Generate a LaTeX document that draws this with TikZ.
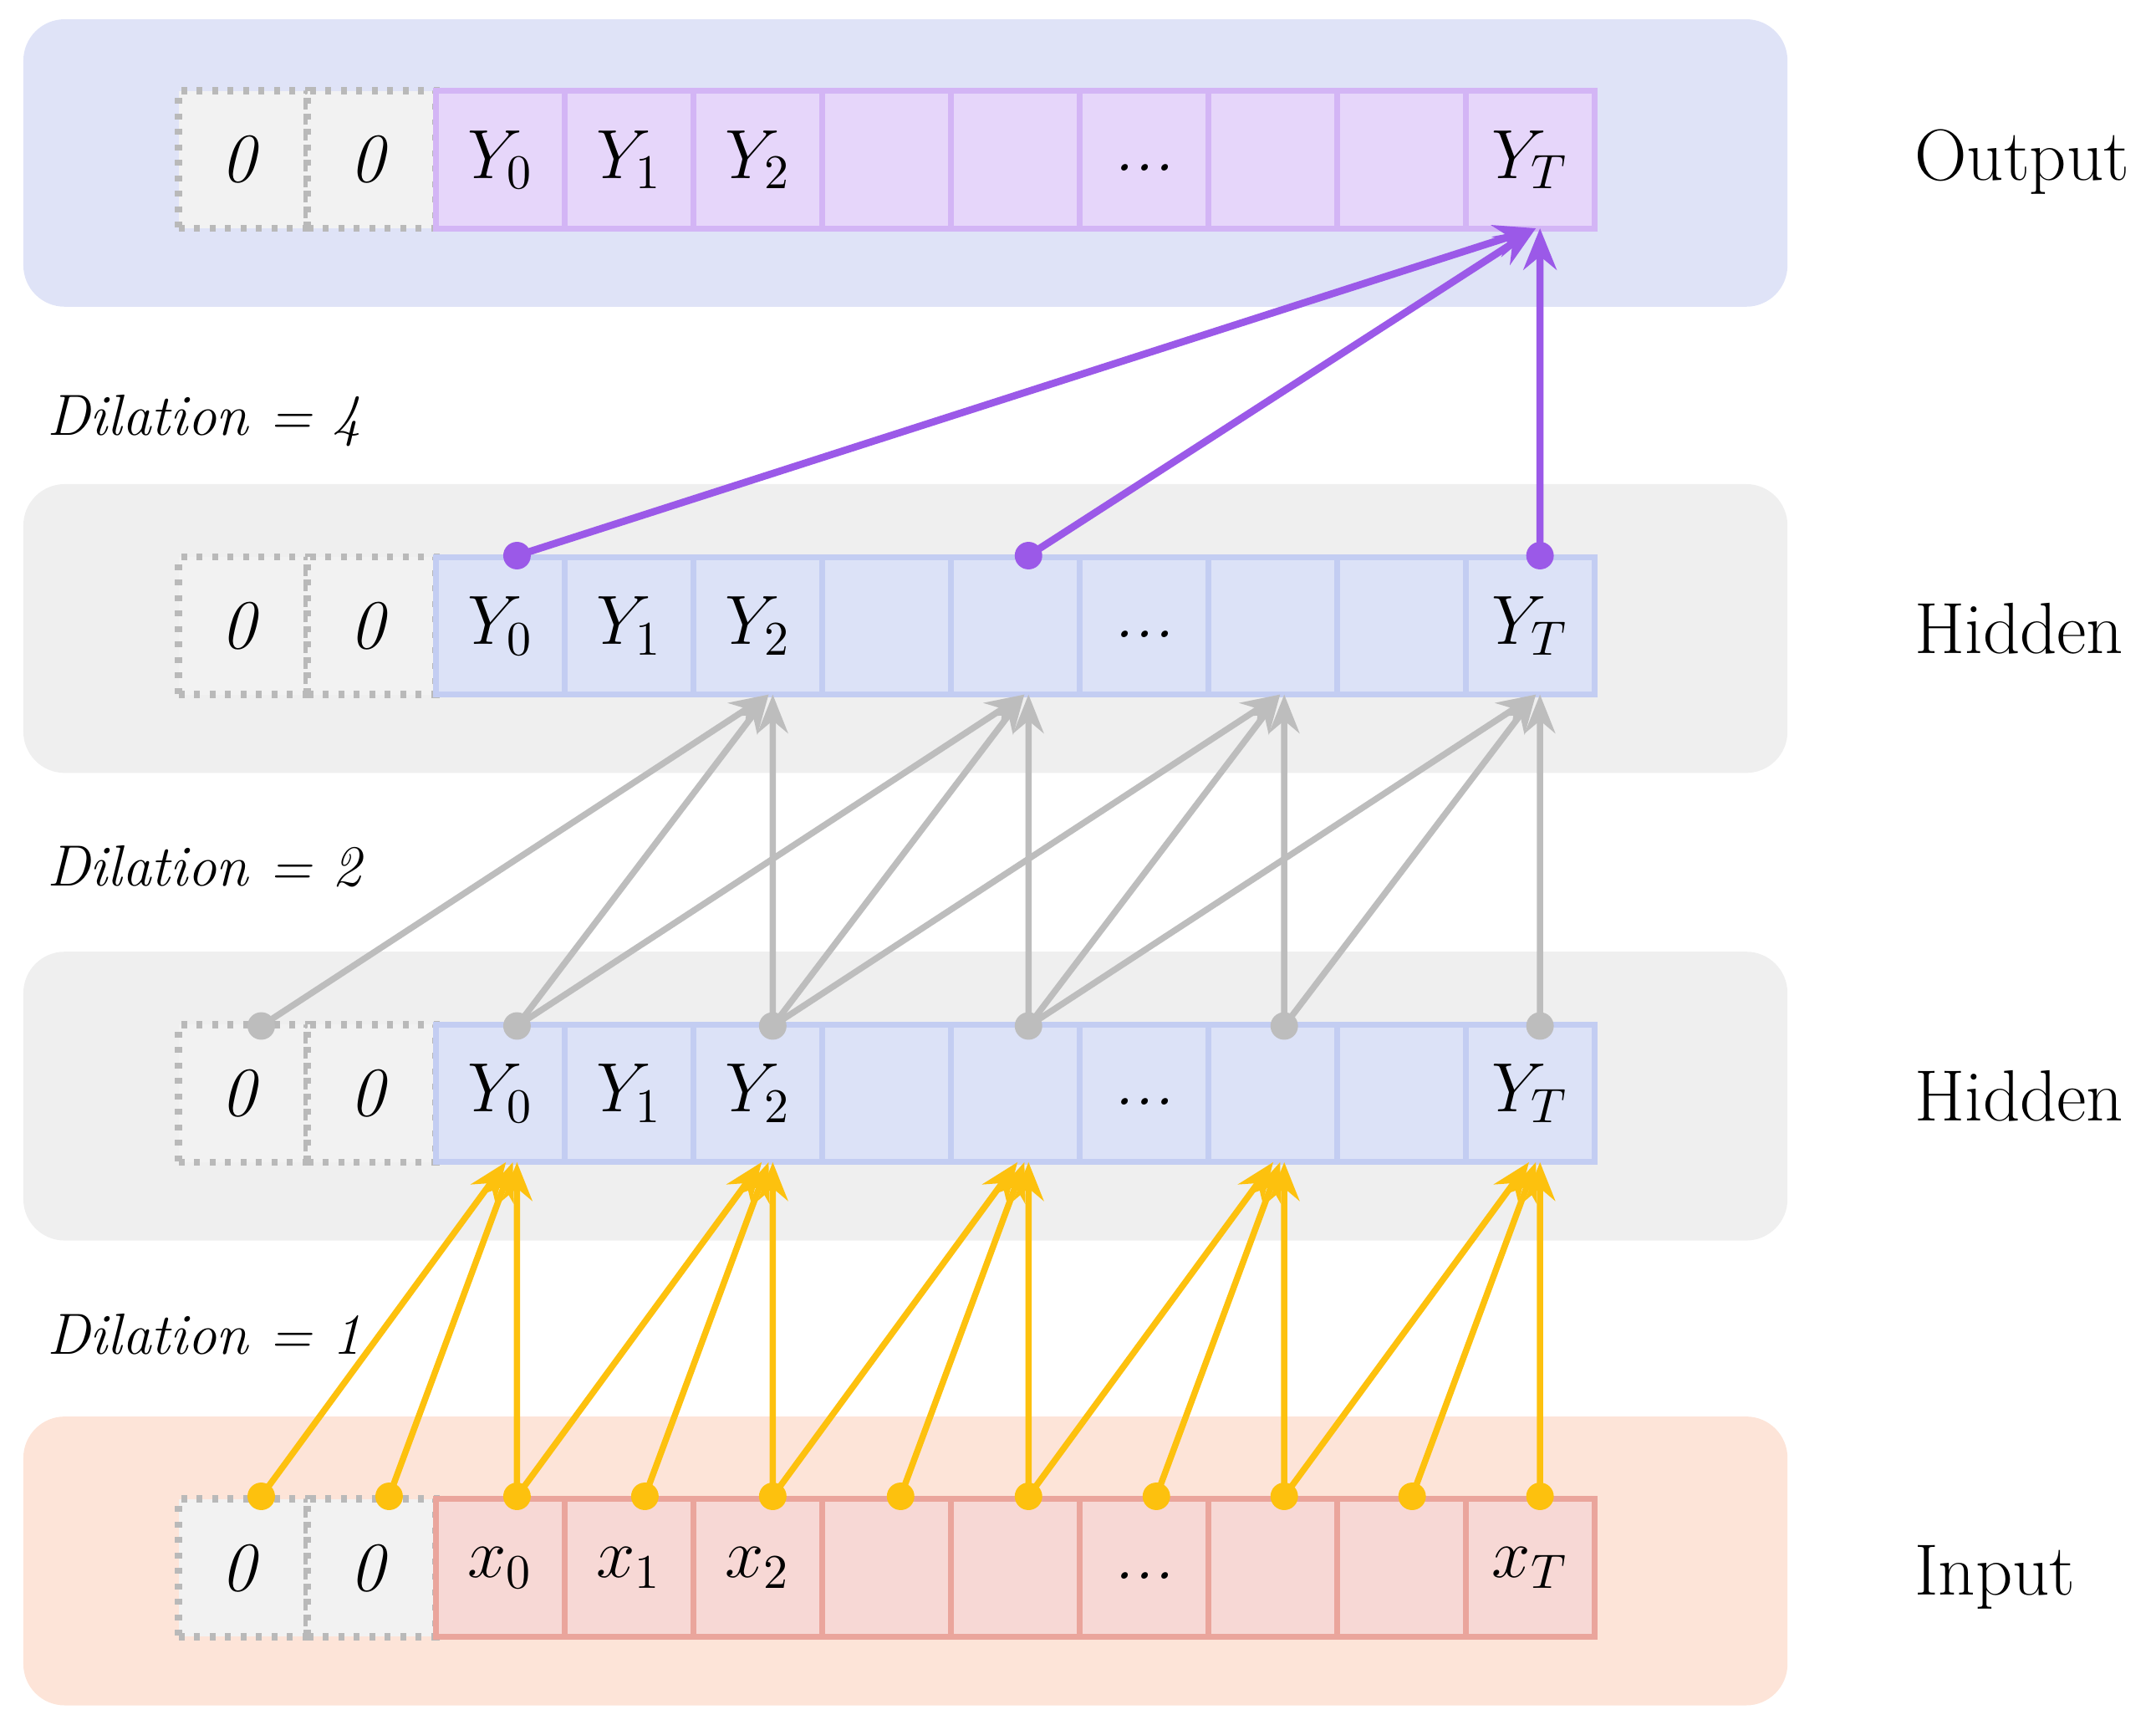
\documentclass[tikz,border=0pt]{standalone}
\usetikzlibrary{arrows.meta}
\begin{document}
\definecolor{bandO}{HTML}{DFE3F7}
\definecolor{bandH}{HTML}{EFEFEF}
\definecolor{bandI}{HTML}{FDE4D8}
\definecolor{cellO}{HTML}{E6D6FA}\definecolor{edgeO}{HTML}{D3B5F5}
\definecolor{cellH}{HTML}{DCE2F7}\definecolor{edgeH}{HTML}{C3CDF2}
\definecolor{cellI}{HTML}{F7D8D5}\definecolor{edgeI}{HTML}{EAA59C}
\definecolor{yel}{HTML}{FDC10E}\definecolor{gry}{HTML}{BDBDBD}\definecolor{pur}{HTML}{9B59E8}
\begin{tikzpicture}[x=0.01cm,y=-0.01cm,
 band/.style={rounded corners=0.3cm},
 cell/.style={draw,line width=1.2pt,minimum width=0.936cm,minimum height=1cm,inner sep=0,font=\fontsize{14}{16}\selectfont},
 pad/.style={cell,fill=bandH!80,draw=gray!55,dotted,line width=1.5pt},
 lab/.style={anchor=west,font=\fontsize{15}{18}\selectfont},
 dil/.style={anchor=west,font=\fontsize{12}{14}\selectfont\itshape},
 ya/.style={yel,line width=1.3pt,-{Stealth[length=0.28cm,width=0.22cm]}},
 ga/.style={gry,line width=1.3pt,-{Stealth[length=0.28cm,width=0.22cm]}},
 pa/.style={pur,line width=1.5pt,-{Stealth[length=0.3cm,width=0.24cm]}},
 ydot/.style={fill=yel,circle,inner sep=0,minimum size=0.2cm},
 gdot/.style={fill=gry,circle,inner sep=0,minimum size=0.2cm},
 pdot/.style={fill=pur,circle,inner sep=0,minimum size=0.2cm}]
\useasboundingbox (0,0) rectangle (1568,1254);
\fill[bandO,band] (17,14) rectangle (1300,223);
\fill[bandH,band] (17,352) rectangle (1300,562);
\fill[bandH,band] (17,692) rectangle (1300,902);
\fill[bandI,band] (17,1030) rectangle (1300,1240);
\foreach \r/\yy/\fc/\ec/\s in {o/116/cellO/edgeO/Y, b/455/cellH/edgeH/Y, a/795/cellH/edgeH/Y, i/1140/cellI/edgeI/x}{
  \foreach \k in {0,...,10}{
    \pgfmathsetmacro\cx{176.8+93.6*\k}
    \ifnum\k<2
      \node[pad] (\r\k) at (\cx,\yy) {$\mathit{0}$};
    \else
      \node[cell,fill=\fc,draw=\ec] (\r\k) at (\cx,\yy) {};
    \fi
  }
  \node[font=\fontsize{14}{16}\selectfont] at (\r2) {$\s_0$};
  \node[font=\fontsize{14}{16}\selectfont] at (\r3) {$\s_1$};
  \node[font=\fontsize{14}{16}\selectfont] at (\r4) {$\s_2$};
  \node[font=\fontsize{14}{16}\selectfont] at ([yshift=-0.06cm]\r7) {\textit{...}};
  \node[font=\fontsize{14}{16}\selectfont] at (\r10) {$\s_T$};
}
\node[lab] (lo) at (1380,118) {Output};
\node[lab] (lb) at (1380,457) {Hidden};
\node[lab] (la) at (1380,797) {Hidden};
\node[lab] (li) at (1380,1147) {Input};
\node[dil] (d4) at (22,306) {Dilation = 4};
\node[dil] (d2) at (22,630) {Dilation = 2};
\node[dil] (d1) at (22,970) {Dilation = 1};
\foreach \k in {0,...,10}{
  \pgfmathsetmacro\dx{190+93*\k}
  \coordinate (yi\k) at (\dx,1088);
  \coordinate (ga\k) at (\dx,746);
  \coordinate (pb\k) at (\dx,404);
  \coordinate (ta\k) at (\dx-3,845);
  \coordinate (tb\k) at (\dx-3,505);
  \coordinate (to\k) at (\dx-3,166);
}
\foreach \t in {2,4,6,8,10}{
  \pgfmathtruncatemacro\m{\t-1}\pgfmathtruncatemacro\n{\t-2}
  \draw[ya] (yi\n) -- ([xshift=-0.05cm]ta\t);
  \draw[ya] (yi\m) -- (ta\t);
  \draw[ya] (yi\t) -- ([xshift=0.03cm]ta\t);
}
\foreach \k in {0,...,10}{\node[ydot] (yd\k) at (yi\k) {};}
\foreach \t in {4,6,8,10}{
  \pgfmathtruncatemacro\m{\t-2}\pgfmathtruncatemacro\n{\t-4}
  \draw[ga] (ga\n) -- (tb\t);
  \draw[ga] (ga\m) -- (tb\t);
  \draw[ga] (ga\t) -- ([xshift=0.03cm]tb\t);
}
\foreach \k in {0,2,4,6,8,10}{\node[gdot] (gd\k) at (ga\k) {};}
\draw[pa] (pb2) -- (to10);
\draw[pa] (pb6) -- (to10);
\draw[pa] (pb10) -- ([xshift=0.03cm]to10);
\foreach \k in {2,6,10}{\node[pdot] (pd\k) at (pb\k) {};}
\end{tikzpicture}
\end{document}
